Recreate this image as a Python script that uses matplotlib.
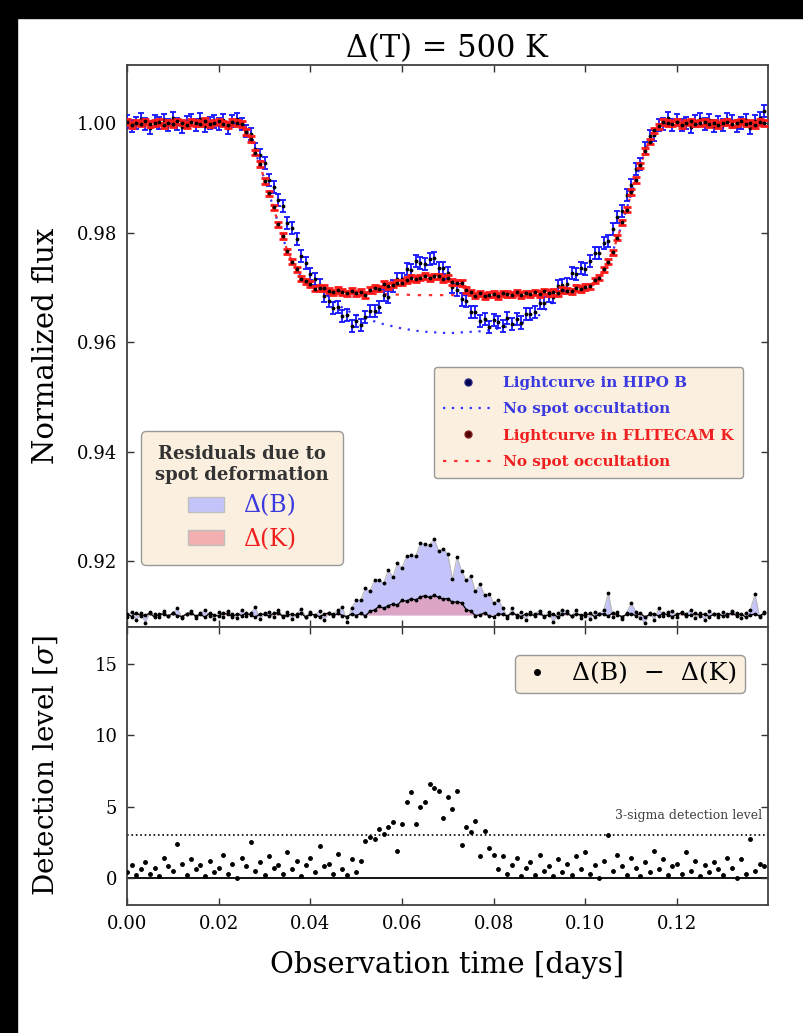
import matplotlib
matplotlib.use("Agg")
import matplotlib.pyplot as plt
from matplotlib.patches import Patch, Rectangle
from matplotlib.lines import Line2D
from matplotlib.ticker import FormatStrFormatter

# observation times [days]
time_days = [
    0.000, 0.001, 0.002, 0.003, 0.004, 0.005, 0.006, 0.007, 0.008, 0.009,
    0.010, 0.011, 0.012, 0.013, 0.014, 0.015, 0.016, 0.017, 0.018, 0.019,
    0.020, 0.021, 0.022, 0.023, 0.024, 0.025, 0.026, 0.027, 0.028, 0.029,
    0.030, 0.031, 0.032, 0.033, 0.034, 0.035, 0.036, 0.037, 0.038, 0.039,
    0.040, 0.041, 0.042, 0.043, 0.044, 0.045, 0.046, 0.047, 0.048, 0.049,
    0.050, 0.051, 0.052, 0.053, 0.054, 0.055, 0.056, 0.057, 0.058, 0.059,
    0.060, 0.061, 0.062, 0.063, 0.064, 0.065, 0.066, 0.067, 0.068, 0.069,
    0.070, 0.071, 0.072, 0.073, 0.074, 0.075, 0.076, 0.077, 0.078, 0.079,
    0.080, 0.081, 0.082, 0.083, 0.084, 0.085, 0.086, 0.087, 0.088, 0.089,
    0.090, 0.091, 0.092, 0.093, 0.094, 0.095, 0.096, 0.097, 0.098, 0.099,
    0.100, 0.101, 0.102, 0.103, 0.104, 0.105, 0.106, 0.107, 0.108, 0.109,
    0.110, 0.111, 0.112, 0.113, 0.114, 0.115, 0.116, 0.117, 0.118, 0.119,
    0.120, 0.121, 0.122, 0.123, 0.124, 0.125, 0.126, 0.127, 0.128, 0.129,
    0.130, 0.131, 0.132, 0.133, 0.134, 0.135, 0.136, 0.137, 0.138, 0.139,
]

# lightcurve in HIPO B
flux_b = [
    1.0003, 0.9995, 1.0001, 1.0007, 0.9998, 0.9992, 1.0004, 1.0000, 1.0006, 0.9997,
    1.0009, 0.9999, 0.9993, 1.0002, 1.0005, 0.9996, 1.0008, 0.9994, 1.0001, 1.0003,
    0.9998, 1.0006, 0.9991, 1.0004, 1.0007, 0.9998, 0.9985, 0.9980, 0.9952, 0.9941,
    0.9928, 0.9896, 0.9883, 0.9859, 0.9848, 0.9817, 0.9808, 0.9788, 0.9758, 0.9744,
    0.9724, 0.9716, 0.9704, 0.9685, 0.9676, 0.9662, 0.9665, 0.9648, 0.9650, 0.9630,
    0.9639, 0.9632, 0.9646, 0.9657, 0.9657, 0.9664, 0.9686, 0.9683, 0.9703, 0.9715,
    0.9716, 0.9733, 0.9732, 0.9749, 0.9745, 0.9742, 0.9752, 0.9754, 0.9735, 0.9735,
    0.9727, 0.9701, 0.9696, 0.9678, 0.9675, 0.9655, 0.9655, 0.9638, 0.9642, 0.9628,
    0.9640, 0.9637, 0.9630, 0.9645, 0.9634, 0.9642, 0.9636, 0.9652, 0.9652, 0.9655,
    0.9672, 0.9671, 0.9685, 0.9682, 0.9702, 0.9705, 0.9706, 0.9727, 0.9724, 0.9736,
    0.9733, 0.9748, 0.9763, 0.9763, 0.9782, 0.9784, 0.9807, 0.9829, 0.9839, 0.9868,
    0.9887, 0.9916, 0.9925, 0.9955, 0.9977, 0.9979, 0.9997, 0.9998, 1.0009, 0.9996,
    1.0006, 0.9997, 1.0001, 0.9993, 1.0004, 1.0008, 0.9998, 1.0005, 0.9994, 1.0002,
    0.9996, 1.0007, 1.0003, 0.9995, 1.0001, 1.0006, 0.9992, 1.0004, 1.0009, 1.0022,
]

# lightcurve in FLITECAM K
flux_k = [
    1.0002, 0.9997, 1.0001, 0.9999, 1.0003, 0.9998, 1.0000, 1.0002, 0.9996, 1.0001,
    0.9998, 1.0003, 1.0001, 0.9997, 1.0002, 1.0000, 0.9999, 1.0004, 0.9998, 1.0001,
    1.0003, 0.9999, 0.9997, 1.0002, 1.0000, 0.9998, 0.9984, 0.9971, 0.9946, 0.9925,
    0.9894, 0.9872, 0.9846, 0.9815, 0.9794, 0.9766, 0.9747, 0.9733, 0.9716, 0.9711,
    0.9706, 0.9698, 0.9699, 0.9699, 0.9694, 0.9691, 0.9695, 0.9692, 0.9689, 0.9694,
    0.9689, 0.9692, 0.9686, 0.9695, 0.9699, 0.9698, 0.9706, 0.9703, 0.9705, 0.9709,
    0.9709, 0.9714, 0.9717, 0.9715, 0.9718, 0.9721, 0.9717, 0.9720, 0.9720, 0.9715,
    0.9717, 0.9710, 0.9709, 0.9708, 0.9695, 0.9691, 0.9685, 0.9689, 0.9684, 0.9687,
    0.9688, 0.9684, 0.9689, 0.9688, 0.9687, 0.9691, 0.9686, 0.9689, 0.9688, 0.9691,
    0.9688, 0.9693, 0.9690, 0.9692, 0.9689, 0.9695, 0.9694, 0.9693, 0.9699, 0.9697,
    0.9701, 0.9702, 0.9713, 0.9718, 0.9733, 0.9747, 0.9764, 0.9791, 0.9819, 0.9842,
    0.9874, 0.9896, 0.9923, 0.9949, 0.9966, 0.9987, 0.9994, 1.0002, 1.0000, 0.9999,
    1.0002, 0.9997, 1.0001, 1.0003, 0.9999, 1.0000, 1.0002, 0.9998, 1.0001, 0.9997,
    1.0001, 1.0002, 0.9998, 1.0000, 1.0003, 0.9999, 1.0001, 0.9997, 1.0002, 1.0000,
]

# models without spot occultation
nospot_b = [
    1.0000, 1.0000, 1.0000, 1.0000, 1.0000, 1.0000, 1.0000, 1.0000, 1.0000, 1.0000,
    1.0000, 1.0000, 1.0000, 1.0000, 1.0000, 1.0000, 1.0000, 1.0000, 1.0000, 1.0000,
    1.0000, 1.0000, 1.0000, 1.0000, 1.0000, 0.9997, 0.9986, 0.9968, 0.9947, 0.9923,
    0.9897, 0.9871, 0.9844, 0.9817, 0.9790, 0.9767, 0.9747, 0.9731, 0.9719, 0.9710,
    0.9704, 0.9700, 0.9696, 0.9690, 0.9683, 0.9676, 0.9669, 0.9663, 0.9658, 0.9654,
    0.9650, 0.9647, 0.9644, 0.9641, 0.9638, 0.9635, 0.9633, 0.9631, 0.9629, 0.9627,
    0.9625, 0.9624, 0.9622, 0.9621, 0.9620, 0.9619, 0.9619, 0.9618, 0.9618, 0.9617,
    0.9617, 0.9617, 0.9617, 0.9618, 0.9618, 0.9619, 0.9619, 0.9620, 0.9621, 0.9622,
    0.9624, 0.9625, 0.9627, 0.9629, 0.9631, 0.9633, 0.9635, 0.9638, 0.9641, 0.9644,
    0.9650, 0.9657, 0.9665, 0.9674, 0.9683, 0.9690, 0.9693, 0.9695, 0.9696, 0.9698,
    0.9700, 0.9704, 0.9710, 0.9719, 0.9731, 0.9747, 0.9767, 0.9790, 0.9817, 0.9844,
    0.9871, 0.9897, 0.9923, 0.9947, 0.9968, 0.9986, 0.9997, 1.0000, 1.0000, 1.0000,
    1.0000, 1.0000, 1.0000, 1.0000, 1.0000, 1.0000, 1.0000, 1.0000, 1.0000, 1.0000,
    1.0000, 1.0000, 1.0000, 1.0000, 1.0000, 1.0000, 1.0000, 1.0000, 1.0000, 1.0000,
]
nospot_k = [
    1.0000, 1.0000, 1.0000, 1.0000, 1.0000, 1.0000, 1.0000, 1.0000, 1.0000, 1.0000,
    1.0000, 1.0000, 1.0000, 1.0000, 1.0000, 1.0000, 1.0000, 1.0000, 1.0000, 1.0000,
    1.0000, 1.0000, 1.0000, 1.0000, 1.0000, 0.9997, 0.9986, 0.9968, 0.9947, 0.9923,
    0.9897, 0.9871, 0.9844, 0.9817, 0.9790, 0.9767, 0.9747, 0.9731, 0.9719, 0.9710,
    0.9704, 0.9700, 0.9698, 0.9696, 0.9695, 0.9694, 0.9693, 0.9692, 0.9691, 0.9691,
    0.9690, 0.9690, 0.9689, 0.9689, 0.9688, 0.9688, 0.9688, 0.9688, 0.9687, 0.9687,
    0.9687, 0.9687, 0.9686, 0.9686, 0.9686, 0.9686, 0.9686, 0.9686, 0.9686, 0.9686,
    0.9686, 0.9686, 0.9686, 0.9686, 0.9686, 0.9686, 0.9686, 0.9686, 0.9686, 0.9687,
    0.9687, 0.9687, 0.9687, 0.9688, 0.9688, 0.9688, 0.9688, 0.9689, 0.9689, 0.9690,
    0.9690, 0.9690, 0.9691, 0.9691, 0.9692, 0.9693, 0.9694, 0.9695, 0.9696, 0.9698,
    0.9700, 0.9704, 0.9710, 0.9719, 0.9731, 0.9747, 0.9767, 0.9790, 0.9817, 0.9844,
    0.9871, 0.9897, 0.9923, 0.9947, 0.9968, 0.9986, 0.9997, 1.0000, 1.0000, 1.0000,
    1.0000, 1.0000, 1.0000, 1.0000, 1.0000, 1.0000, 1.0000, 1.0000, 1.0000, 1.0000,
    1.0000, 1.0000, 1.0000, 1.0000, 1.0000, 1.0000, 1.0000, 1.0000, 1.0000, 1.0000,
]

# residuals due to spot deformation (flux units)
resid_b = [
    -0.0004, 0.0006, -0.0009, 0.0003, -0.0014, 0.0005, 0.0001, -0.0003, 0.0007, -0.0002,
    0.0004, 0.0012, -0.0005, 0.0002, 0.0008, -0.0006, 0.0003, 0.0009, -0.0001, -0.0007,
    0.0005, -0.0003, 0.0008, 0.0001, -0.0006, 0.0010, -0.0002, 0.0004, 0.0014, -0.0008,
    0.0003, 0.0006, -0.0004, 0.0009, -0.0001, 0.0005, -0.0007, 0.0002, 0.0011, -0.0003,
    0.0006, -0.0002, 0.0008, -0.0010, 0.0004, 0.0001, 0.0009, 0.0014, -0.0012, 0.0013,
    0.0027, 0.0027, 0.0049, 0.0043, 0.0063, 0.0064, 0.0058, 0.0082, 0.0070, 0.0094,
    0.0086, 0.0107, 0.0109, 0.0107, 0.0131, 0.0129, 0.0127, 0.0139, 0.0116, 0.0121,
    0.0111, 0.0065, 0.0106, 0.0080, 0.0064, 0.0071, 0.0043, 0.0056, 0.0036, 0.0039,
    0.0021, 0.0028, 0.0013, -0.0005, 0.0012, -0.0003, 0.0006, -0.0009, 0.0005, 0.0002,
    0.0008, -0.0004, 0.0006, -0.0013, 0.0003, 0.0009, 0.0007, -0.0002, 0.0010, -0.0005,
    0.0004, -0.0007, 0.0006, 0.0002, 0.0009, 0.0040, -0.0003, 0.0005, -0.0008, 0.0003,
    0.0022, 0.0006, -0.0006, -0.0015, 0.0004, -0.0009, 0.0012, -0.0002, 0.0005, 0.0008,
    -0.0003, 0.0006, 0.0002, 0.0009, -0.0005, 0.0003, -0.0010, 0.0007, 0.0001, -0.0004,
    0.0005, -0.0002, 0.0008, 0.0003, -0.0006, 0.0004, 0.0010, 0.0038, -0.0003, 0.0006,
]
resid_k = [
    0.0002, -0.0003, 0.0004, -0.0001, 0.0000, 0.0003, -0.0004, 0.0001, 0.0002, -0.0002,
    0.0003, -0.0001, -0.0003, 0.0002, 0.0004, -0.0002, 0.0001, -0.0004, 0.0003, 0.0000,
    -0.0002, 0.0004, 0.0001, -0.0003, 0.0002, -0.0001, 0.0003, 0.0000, -0.0004, 0.0002,
    0.0001, -0.0002, 0.0003, 0.0004, -0.0003, 0.0000, 0.0002, -0.0001, 0.0003, -0.0004,
    0.0002, 0.0000, -0.0003, 0.0001, 0.0004, -0.0002, 0.0003, -0.0001, -0.0003, 0.0002,
    -0.0001, 0.0003, -0.0002, 0.0007, 0.0009, 0.0016, 0.0012, 0.0017, 0.0020, 0.0018,
    0.0027, 0.0025, 0.0030, 0.0027, 0.0033, 0.0035, 0.0032, 0.0036, 0.0032, 0.0029,
    0.0030, 0.0023, 0.0024, 0.0022, 0.0010, 0.0007, -0.0001, 0.0000, 0.0004, -0.0002,
    -0.0003, 0.0002, 0.0001, -0.0002, 0.0004, 0.0000, -0.0003, 0.0002, 0.0001, -0.0001,
    0.0003, -0.0002, 0.0000, 0.0002, -0.0004, 0.0001, 0.0003, -0.0002, 0.0002, 0.0000,
    -0.0001, 0.0003, -0.0003, 0.0001, 0.0002, -0.0002, 0.0004, 0.0000, -0.0003, 0.0001,
    0.0002, -0.0001, 0.0003, -0.0004, 0.0001, 0.0002, -0.0002, 0.0003, 0.0000, -0.0003,
    0.0001, 0.0004, -0.0002, 0.0000, 0.0003, -0.0001, 0.0002, -0.0003, 0.0001, 0.0002,
    -0.0002, 0.0001, 0.0003, -0.0001, 0.0002, -0.0004, 0.0000, 0.0002, -0.0002, 0.0003,
]
resid_offset = 0.9102

# detection level of Delta(B) - Delta(K) [sigma]
detection = [
    0.4, 0.9, 0.2, 0.6, 1.1, 0.3, 0.7, 0.1, 1.4, 0.8,
    0.5, 2.4, 1.0, 0.2, 1.3, 0.6, 0.9, 0.1, 1.2, 0.4,
    0.7, 1.6, 0.3, 1.0, 0.0, 1.4, 0.8, 2.5, 0.5, 1.1,
    0.2, 1.5, 0.7, 0.9, 0.3, 1.8, 0.6, 1.2, 0.1, 0.9,
    1.4, 0.4, 2.2, 0.8, 1.0, 0.3, 1.7, 0.6, 0.2, 1.3,
    0.4, 1.2, 2.6, 2.9, 2.7, 3.4, 3.1, 3.6, 3.9, 1.9,
    3.8, 5.3, 6.0, 3.8, 5.0, 5.3, 6.6, 6.3, 6.1, 4.2,
    5.7, 4.8, 6.1, 2.3, 3.6, 3.2, 4.0, 1.5, 3.3, 2.1,
    1.6, 0.6, 1.5, 0.3, 0.9, 1.4, 0.1, 0.7, 1.1, 0.2,
    1.6, 0.5, 0.8, 0.1, 1.3, 0.4, 1.0, 0.2, 1.5, 0.6,
    1.8, 0.3, 0.9, 0.0, 1.2, 3.0, 0.5, 1.6, 0.8, 0.2,
    1.4, 0.7, 0.1, 1.1, 0.4, 1.9, 0.6, 1.3, 0.2, 0.8,
    1.0, 0.3, 1.8, 0.5, 1.2, 0.1, 0.9, 0.4, 1.1, 0.6,
    0.2, 1.4, 0.7, 0.0, 1.3, 0.3, 2.7, 0.5, 1.0, 0.8,
]
detection_limit = 3

plt.rcParams['font.family'] = 'serif'
plt.rcParams['font.serif'] = ['DejaVu Serif']
plt.rcParams['mathtext.fontset'] = 'dejavuserif'

fig = plt.figure(figsize=(8.04, 10.33), dpi=100)
fig.patch.set_facecolor('white')
# dark frame of the screenshot (top and left)
fig.add_artist(Rectangle((0, 1 - 18 / 1033.), 1, 18 / 1033., transform=fig.transFigure,
                         color='black', zorder=10))
fig.add_artist(Rectangle((0, 0), 17 / 804., 1, transform=fig.transFigure,
                         color='black', zorder=10))

ax1 = fig.add_axes([0.158, 0.393, 0.797, 0.544])
ax2 = fig.add_axes([0.158, 0.124, 0.797, 0.269], sharex=ax1)

blue_txt = '#3a3ae0'
red_txt = '#f02020'
legend_face = '#fbf0df'

# Upper panel: lightcurves
ax1.errorbar(time_days, flux_b, yerr=0.0011, fmt='.', color='k', ms=3.5,
             ecolor='#1414ff', elinewidth=1.3, capsize=2.5, capthick=1.3, zorder=3)
ax1.errorbar(time_days, flux_k, yerr=0.0005, fmt='.', color='k', ms=3.5,
             ecolor='#ff1a1a', elinewidth=2.6, capsize=2.6, capthick=2.0, zorder=4)
ax1.plot(time_days, nospot_b, color='#3030ff', ls=(0, (1, 3)), lw=1.6, zorder=2)
ax1.plot(time_days, nospot_k, color='#ff3030', ls=(0, (1.5, 3.5)), lw=1.6, zorder=2)

# residuals drawn at the bottom of the upper panel
res_b = [resid_offset + r for r in resid_b]
res_k = [resid_offset + r for r in resid_k]
ax1.fill_between(time_days, resid_offset, res_b, color='#c4c4fa', lw=0, zorder=1)
ax1.plot(time_days, res_b, color='0.72', lw=0.8, zorder=1.5)
ax1.plot(time_days, res_b, 'k.', ms=3.5, zorder=3)
ax1.fill_between(time_days, resid_offset, res_k, color='#f08a9a', alpha=0.55, lw=0, zorder=1.6)
ax1.plot(time_days, res_k, color='k', lw=0.9, marker='.', ms=3.5, zorder=3)

ax1.set_ylim(0.908, 1.0106)
ax1.set_yticks([0.92, 0.94, 0.96, 0.98, 1.00])
ax1.yaxis.set_major_formatter(FormatStrFormatter('%.2f'))
ax1.tick_params(labelbottom=False)
ax1.set_ylabel('Normalized flux', fontsize=21)
ax1.set_title('\u0394(T) = 500 K', fontsize=22, pad=6)

handles1 = [
    Line2D([], [], ls='none', marker='o', ms=5, mfc='#000050', mec='#202080'),
    Line2D([], [], color='#3030ff', ls=(0, (1, 3)), lw=1.6),
    Line2D([], [], ls='none', marker='o', ms=5, mfc='#500000', mec='#802020'),
    Line2D([], [], color='#ff3030', ls=(0, (1.5, 3.5)), lw=1.6),
]
labels1 = ['Lightcurve in HIPO B', 'No spot occultation',
           'Lightcurve in FLITECAM K', 'No spot occultation']
leg1 = ax1.legend(handles1, labels1, loc='upper right', bbox_to_anchor=(0.961, 0.4626),
                  borderaxespad=0, prop={'size': 11, 'weight': 'bold'}, labelspacing=0.8,
                  handlelength=3.2, handletextpad=0.7, borderpad=0.6,
                  facecolor=legend_face, edgecolor='0.6', framealpha=1, fancybox=True)
for txt, c in zip(leg1.get_texts(), [blue_txt, blue_txt, red_txt, red_txt]):
    txt.set_color(c)
ax1.add_artist(leg1)

handles2 = [Patch(facecolor='#c4c4fa', edgecolor='0.75'),
            Patch(facecolor='#f4b0b0', edgecolor='0.75')]
leg2 = ax1.legend(handles2, ['\u0394(B)', '\u0394(K)'], loc='lower left',
                  bbox_to_anchor=(0.022, 0.110), borderaxespad=0, prop={'size': 17},
                  title='Residuals due to\nspot deformation',
                  title_fontproperties={'size': 13, 'weight': 'bold'},
                  labelspacing=0.45, handlelength=1.5, handleheight=0.6,
                  borderpad=0.6, facecolor=legend_face, edgecolor='0.6',
                  framealpha=1, fancybox=True)
leg2.get_title().set_color('0.2')
leg2.get_title().set_multialignment('center')
for txt, c in zip(leg2.get_texts(), [blue_txt, red_txt]):
    txt.set_color(c)

# Lower panel: detection level
ax2.axhline(0, color='k', lw=1.3, zorder=1)
ax2.axhline(detection_limit, color='k', ls=':', lw=1.2, zorder=1)
ax2.plot(time_days, detection, 'k.', ms=5, zorder=3)
ax2.text(0.1385, detection_limit + 0.9, '3-sigma detection level', ha='right',
         va='bottom', fontsize=9, color='0.25')
ax2.set_ylim(-1.9, 17.6)
ax2.set_yticks([0, 5, 10, 15])
ax2.set_xlim(0.0, 0.1398)
ax2.set_xticks([0.00, 0.02, 0.04, 0.06, 0.08, 0.10, 0.12])
ax2.xaxis.set_major_formatter(FormatStrFormatter('%.2f'))
ax2.set_ylabel(r'Detection level [$\sigma$]', fontsize=20)
ax2.set_xlabel('Observation time [days]', fontsize=21, labelpad=13)

handles3 = [Line2D([], [], ls='none', marker='.', ms=8, color='k')]
ax2.legend(handles3, ['\u0394(B)  \u2212  \u0394(K)'], loc='upper right',
           bbox_to_anchor=(0.964, 0.899), borderaxespad=0, prop={'size': 18},
           handlelength=1.2, handletextpad=0.8, borderpad=0.3,
           facecolor=legend_face, edgecolor='0.6', framealpha=1, fancybox=True)

for ax in (ax1, ax2):
    ax.tick_params(direction='in', top=True, right=True, length=5, width=1,
                   labelsize=13, color='0.2', pad=7)
    for sp in ax.spines.values():
        sp.set_linewidth(1.3)
        sp.set_color('0.25')
    ax.yaxis.set_label_coords(-0.104, 0.5)

fig.savefig('out.png', dpi=100)
